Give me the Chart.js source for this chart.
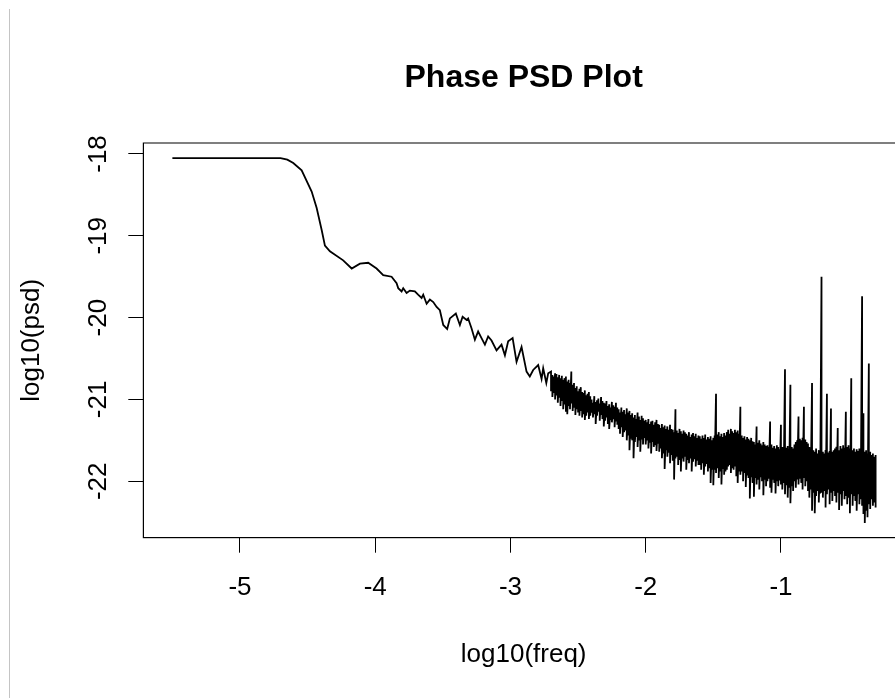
<!DOCTYPE html>
<html>
<head>
<meta charset="utf-8">
<title>Phase PSD Plot</title>
<script src="https://cdn.jsdelivr.net/npm/chart.js@4.4.1/dist/chart.umd.min.js"></script>
<style>
  html, body { margin: 0; padding: 0; background: #fff; overflow: hidden; }
  #wrap { position: relative; width: 895px; height: 698px; overflow: hidden; }
  #edge { position: absolute; left: 9px; top: 9px; bottom: 0; width: 1px; background: #c4c4c4; }
  canvas { position: absolute; left: 0; top: 0; }
</style>
</head>
<body>
<div id="wrap">
  <canvas id="psdChart" width="912" height="698"></canvas>
  <div id="edge"></div>
</div>
<script>
// smooth low-frequency part of the curve (log10 freq, log10 psd)
const lineX = [-5.50, -4.70, -4.65, -4.606, -4.544, -4.47, -4.433, -4.396, -4.372, -4.335,
  -4.237, -4.174, -4.113, -4.052, -3.99, -3.941, -3.879, -3.842, -3.83, -3.805,
  -3.793, -3.768, -3.744, -3.707, -3.683, -3.657, -3.645, -3.62, -3.596, -3.571,
  -3.546, -3.522, -3.497, -3.468, -3.448, -3.404, -3.374, -3.354, -3.324, -3.313,
  -3.288, -3.263, -3.239, -3.214, -3.189, -3.165, -3.14, -3.103, -3.066, -3.041,
  -3.017, -2.984, -2.955, -2.918, -2.881, -2.857, -2.832, -2.795, -2.77, -2.758,
  -2.735, -2.721];
const lineY = [-18.05, -18.05, -18.07, -18.11, -18.20, -18.46, -18.66, -18.93, -19.12, -19.19,
  -19.30, -19.40, -19.34, -19.33, -19.40, -19.48, -19.50, -19.58, -19.64, -19.68,
  -19.64, -19.70, -19.67, -19.68, -19.72, -19.76, -19.72, -19.83, -19.78, -19.81,
  -19.87, -19.91, -20.09, -20.14, -20.01, -19.95, -20.09, -19.99, -20.03, -20.01,
  -20.13, -20.27, -20.17, -20.25, -20.33, -20.23, -20.28, -20.40, -20.33, -20.46,
  -20.29, -20.25, -20.54, -20.36, -20.66, -20.72, -20.64, -20.58, -20.75, -20.62,
  -20.80, -20.68];

// noisy high-frequency part: per x, the highest and lowest swing of the trace
const bandX = [-2.70, -2.69, -2.68, -2.67, -2.66, -2.65, -2.64, -2.63, -2.62, -2.61,
  -2.60, -2.59, -2.58, -2.57, -2.56, -2.55, -2.54, -2.53, -2.52, -2.51,
  -2.50, -2.49, -2.48, -2.47, -2.46, -2.45, -2.44, -2.43, -2.42, -2.41,
  -2.40, -2.39, -2.38, -2.37, -2.36, -2.35, -2.34, -2.33, -2.32, -2.31,
  -2.30, -2.29, -2.28, -2.27, -2.26, -2.25, -2.24, -2.23, -2.22, -2.21,
  -2.20, -2.19, -2.18, -2.17, -2.16, -2.15, -2.14, -2.13, -2.12, -2.11,
  -2.10, -2.09, -2.08, -2.07, -2.06, -2.05, -2.04, -2.03, -2.02, -2.01,
  -2.00, -1.99, -1.98, -1.97, -1.96, -1.95, -1.94, -1.93, -1.92, -1.91,
  -1.90, -1.89, -1.88, -1.87, -1.86, -1.85, -1.84, -1.83, -1.82, -1.81,
  -1.80, -1.79, -1.78, -1.77, -1.76, -1.75, -1.74, -1.73, -1.72, -1.71,
  -1.70, -1.69, -1.68, -1.67, -1.66, -1.65, -1.64, -1.63, -1.62, -1.61,
  -1.60, -1.59, -1.58, -1.57, -1.56, -1.55, -1.54, -1.53, -1.52, -1.51,
  -1.50, -1.49, -1.48, -1.47, -1.46, -1.45, -1.44, -1.43, -1.42, -1.41,
  -1.40, -1.39, -1.38, -1.37, -1.36, -1.35, -1.34, -1.33, -1.32, -1.31,
  -1.30, -1.29, -1.28, -1.27, -1.26, -1.25, -1.24, -1.23, -1.22, -1.21,
  -1.20, -1.19, -1.18, -1.17, -1.16, -1.15, -1.14, -1.13, -1.12, -1.11,
  -1.10, -1.09, -1.08, -1.07, -1.06, -1.05, -1.04, -1.03, -1.02, -1.01,
  -1.00, -0.99, -0.98, -0.97, -0.96, -0.95, -0.94, -0.93, -0.92, -0.91,
  -0.90, -0.89, -0.88, -0.87, -0.86, -0.85, -0.84, -0.83, -0.82, -0.81,
  -0.80, -0.79, -0.78, -0.77, -0.76, -0.75, -0.74, -0.73, -0.72, -0.71,
  -0.70, -0.69, -0.68, -0.67, -0.66, -0.65, -0.64, -0.63, -0.62, -0.61,
  -0.60, -0.59, -0.58, -0.57, -0.56, -0.55, -0.54, -0.53, -0.52, -0.51,
  -0.50, -0.49, -0.48, -0.47, -0.46, -0.45, -0.44, -0.43, -0.42, -0.41,
  -0.40, -0.39, -0.38, -0.37, -0.36, -0.35, -0.34, -0.33, -0.32, -0.31,
  -0.30];
const bandHi = [-20.66, -20.70, -20.72, -20.68, -20.69, -20.73, -20.70, -20.74, -20.71, -20.76,
  -20.74, -20.72, -20.78, -20.76, -20.80, -20.66, -20.82, -20.80, -20.86, -20.84,
  -20.90, -20.87, -20.85, -20.91, -20.92, -20.89, -20.95, -20.93, -20.91, -20.96,
  -21.00, -21.04, -20.96, -21.03, -21.01, -20.99, -21.05, -20.97, -21.02, -21.04,
  -21.05, -21.02, -21.08, -21.06, -21.10, -21.03, -21.07, -21.09, -21.04, -21.10,
  -21.12, -21.16, -21.10, -21.15, -21.13, -21.18, -21.11, -21.16, -21.14, -21.19,
  -21.17, -21.22, -21.19, -21.24, -21.16, -21.21, -21.25, -21.20, -21.23, -21.26,
  -21.25, -21.28, -21.24, -21.30, -21.27, -21.26, -21.31, -21.28, -21.25, -21.30,
  -21.31, -21.35, -21.30, -21.34, -21.32, -21.36, -21.33, -21.37, -21.31, -21.36,
  -21.37, -21.40, -21.12, -21.38, -21.41, -21.36, -21.39, -21.42, -21.38, -21.40,
  -21.42, -21.44, -21.40, -21.46, -21.43, -21.41, -21.45, -21.42, -21.47, -21.44,
  -21.45, -21.48, -21.44, -21.47, -21.43, -21.49, -21.46, -21.48, -21.45, -21.50,
  -21.47, -21.44, -20.93, -21.43, -21.40, -21.45, -21.42, -21.46, -21.41, -21.44,
  -21.40, -21.37, -21.42, -21.36, -21.39, -21.41, -21.37, -21.40, -21.38, -21.42,
  -21.09, -21.44, -21.47, -21.45, -21.49, -21.46, -21.48, -21.50, -21.47, -21.51,
  -21.52, -21.55, -21.33, -21.53, -21.50, -21.54, -21.56, -21.52, -21.55, -21.57,
  -21.56, -21.58, -21.27, -21.55, -21.59, -21.57, -21.60, -21.56, -21.58, -21.61,
  -21.31, -21.58, -21.60, -20.63, -21.59, -21.57, -21.61, -20.82, -21.58, -21.60,
  -21.55, -21.52, -21.50, -21.21, -21.48, -21.50, -21.47, -21.09, -21.49, -21.52,
  -21.54, -21.58, -21.60, -20.80, -21.62, -21.64, -21.60, -21.66, -21.62, -21.64,
  -19.50, -21.64, -21.66, -21.62, -20.93, -21.65, -21.63, -21.11, -21.64, -21.62,
  -21.60, -21.58, -21.35, -21.62, -21.57, -21.60, -21.56, -21.59, -21.15, -21.58,
  -21.56, -21.60, -20.74, -21.62, -21.60, -21.64, -21.61, -21.63, -21.60, -21.62,
  -19.74, -21.17, -21.64, -21.62, -21.66, -20.56, -21.64, -21.68, -21.66, -21.70,
  -21.68];
const bandLo = [-20.90, -20.97, -20.92, -21.00, -20.95, -21.04, -20.98, -21.08, -21.02, -21.12,
  -21.06, -21.15, -21.18, -21.08, -21.12, -21.05, -21.14, -21.10, -21.19, -21.12,
  -21.16, -21.20, -21.14, -21.22, -21.18, -21.25, -21.20, -21.16, -21.24, -21.20,
  -21.16, -21.22, -21.18, -21.30, -21.20, -21.15, -21.26, -21.19, -21.24, -21.33,
  -21.26, -21.22, -21.30, -21.36, -21.25, -21.28, -21.24, -21.34, -21.27, -21.31,
  -21.36, -21.42, -21.34, -21.46, -21.40, -21.38, -21.50, -21.44, -21.62, -21.48,
  -21.50, -21.72, -21.52, -21.46, -21.58, -21.50, -21.64, -21.49, -21.55, -21.47,
  -21.55, -21.50, -21.60, -21.53, -21.66, -21.52, -21.58, -21.56, -21.63, -21.54,
  -21.64, -21.60, -21.72, -21.66, -21.85, -21.62, -21.70, -21.65, -21.78, -21.68,
  -21.75, -21.98, -21.72, -21.70, -21.80, -21.74, -21.88, -21.72, -21.76, -21.70,
  -21.86, -21.74, -21.78, -21.72, -21.88, -21.76, -21.73, -21.82, -21.75, -21.80,
  -21.80, -21.86, -21.78, -21.92, -21.82, -21.79, -21.88, -21.84, -22.02, -21.86,
  -22.05, -21.86, -21.90, -21.84, -21.96, -21.88, -22.04, -21.85, -21.92, -21.88,
  -21.86, -21.82, -21.80, -21.90, -21.84, -21.86, -21.82, -21.94, -22.02, -21.88,
  -21.92, -21.88, -22.00, -21.90, -22.07, -21.93, -21.96, -22.21, -21.95, -22.02,
  -22.19, -21.96, -22.04, -21.98, -22.10, -21.95, -22.00, -22.17, -21.98, -22.06,
  -22.00, -21.97, -22.08, -22.14, -21.98, -22.02, -22.15, -22.00, -22.06, -21.99,
  -22.04, -22.10, -22.02, -22.16, -22.05, -22.20, -22.08, -22.27, -22.06, -22.12,
  -22.00, -22.08, -21.98, -22.04, -21.97, -22.02, -22.10, -21.96, -22.06, -22.00,
  -22.12, -22.20, -22.10, -22.36, -22.14, -22.39, -22.18, -22.12, -22.26, -22.15,
  -22.14, -22.20, -22.12, -22.32, -22.16, -22.10, -22.28, -22.14, -22.24, -22.12,
  -22.18, -22.26, -22.14, -22.35, -22.16, -22.30, -22.12, -22.22, -22.18, -22.28,
  -22.20, -22.39, -22.16, -22.30, -22.18, -22.24, -22.36, -22.16, -22.28, -22.22,
  -22.30, -22.40, -22.51, -22.36, -22.44, -22.28, -22.34, -22.22, -22.30, -22.26,
  -22.32];

const xTicks = [-5, -4, -3, -2, -1];
const yTicks = [-22, -21, -20, -19, -18];
const plotTitle = 'Phase PSD Plot';

const points = lineX.map((x, i) => ({ x: x, y: lineY[i] }));
bandX.forEach((x, i) => {
  points.push({ x: x, y: bandHi[i] });
  points.push({ x: x, y: bandLo[i] });
});

Chart.defaults.font.family = '"Liberation Sans", Arial, sans-serif';
Chart.defaults.color = '#000';

// box around the plot, title centred over the plot, R style rotated y tick labels
const framePlugin = {
  id: 'frame',
  afterDraw(chart) {
    const { ctx, chartArea: a, scales } = chart;
    ctx.save();
    ctx.strokeStyle = '#000';
    ctx.lineWidth = 1;
    ctx.strokeRect(a.left, a.top, a.right - a.left, a.bottom - a.top);

    ctx.fillStyle = '#000';
    ctx.textAlign = 'center';
    ctx.textBaseline = 'alphabetic';
    ctx.font = 'bold 32px "Liberation Sans", Arial, sans-serif';
    ctx.fillText(plotTitle, (a.left + a.right) / 2, a.top - 56);

    ctx.font = '26px "Liberation Sans", Arial, sans-serif';
    yTicks.forEach(v => {
      const py = scales.y.getPixelForValue(v);
      ctx.save();
      ctx.translate(scales.y.right - 37, py);
      ctx.rotate(-Math.PI / 2);
      ctx.fillText(String(v), 0, 0);
      ctx.restore();
    });
    ctx.restore();
  }
};

new Chart(document.getElementById('psdChart'), {
  type: 'line',
  data: {
    datasets: [{
      data: points,
      borderColor: '#000',
      borderWidth: 1.8,
      pointRadius: 0,
      fill: false,
      tension: 0
    }]
  },
  options: {
    responsive: false,
    animation: false,
    layout: { padding: { left: 0, right: 8, top: 143, bottom: 0 } },
    plugins: {
      legend: { display: false },
      tooltip: { enabled: false },
      title: { display: false }
    },
    scales: {
      x: {
        type: 'linear',
        min: -5.715,
        max: -0.09,
        afterBuildTicks: s => { s.ticks = xTicks.map(v => ({ value: v })); },
        afterFit: s => { s.height = 160.3; },
        grid: { drawOnChartArea: false, drawTicks: true, tickLength: 15, color: '#000' },
        border: { display: true, color: '#000', width: 1 },
        ticks: { color: '#000', font: { size: 26 }, padding: 20, minRotation: 0, maxRotation: 0 },
        title: {
          display: true,
          text: 'log10(freq)',
          color: '#000',
          font: { size: 26, lineHeight: 1.2 },
          padding: { top: 0, bottom: 28 }
        }
      },
      y: {
        type: 'linear',
        min: -22.69,
        max: -17.866,
        afterBuildTicks: s => { s.ticks = yTicks.map(v => ({ value: v })); },
        afterFit: s => { s.width = 143.3; },
        grid: { drawOnChartArea: false, drawTicks: true, tickLength: 15, color: '#000' },
        border: { display: true, color: '#000', width: 1 },
        ticks: { display: false },
        title: {
          display: true,
          text: 'log10(psd)',
          color: '#000',
          font: { size: 26, lineHeight: 1.2 },
          padding: { top: 16, bottom: 0 }
        }
      }
    }
  },
  plugins: [framePlugin]
});
</script>
</body>
</html>
